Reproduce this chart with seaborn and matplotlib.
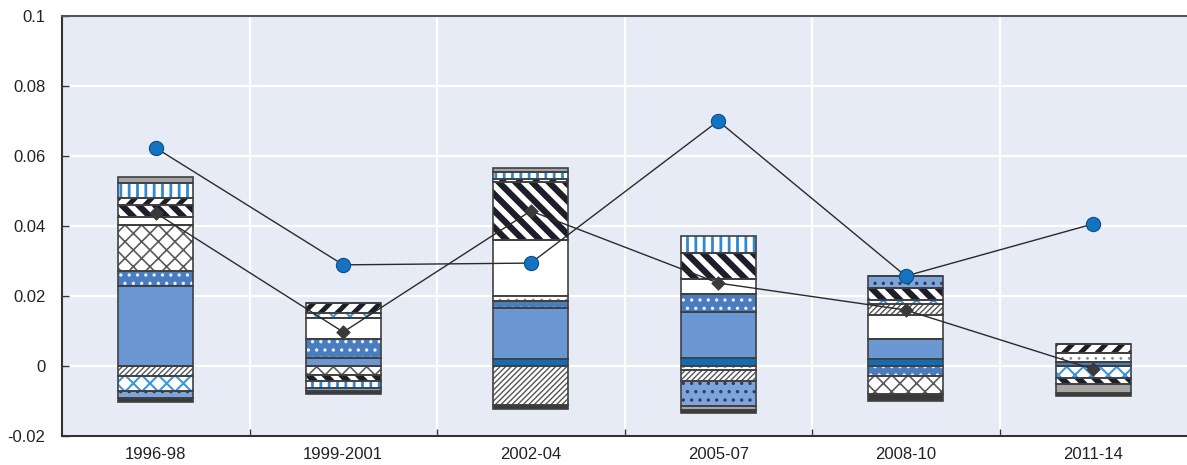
import numpy as np
import pandas as pd
import matplotlib
matplotlib.use("Agg")
import matplotlib.pyplot as plt
from matplotlib.ticker import FixedLocator
import seaborn as sns

# ---------------- data ----------------
periods = ["1996-98", "1999-2001", "2002-04", "2005-07", "2008-10", "2011-14"]

dark_blue       = [0.0,     0.0,     0.0021,  0.0022,  0.0021,  0.0]
solid_blue      = [0.0229,  0.0024,  0.0146,  0.0131,  0.0055,  0.0]
blue_dots       = [0.0043,  0.0052,  0.0019,  0.0052, -0.0029,  0.0012]
grey_cross      = [0.0131, -0.0026,  0.0,     0.0,    -0.0052,  0.0]
white_dots      = [0.0,     0.0,     0.0014, -0.0012,  0.0,     0.0024]
white_solid     = [0.0024,  0.0062,  0.0159,  0.0043,  0.0071,  0.0]
thin_hatch      = [-0.0029, 0.0,    -0.0110, -0.0030,  0.0030,  0.0]
blue_cross      = [-0.0043, 0.0014,  0.0,     0.0,     0.0012, -0.0035]
bold_diag       = [0.0032, -0.0017,  0.0167,  0.0076,  0.0033, -0.0015]
zigzag          = [0.0022,  0.0029,  0.0008,  0.0,     0.0,     0.0028]
blue_stripes    = [0.0043, -0.0019,  0.0021,  0.0048,  0.0,     0.0]
light_blue_dots = [-0.0019, -0.0010, 0.0,    -0.0071,  0.0036,  0.0]
grey_solid      = [0.0015,  0.0,     0.0010, -0.0014,  0.0,    -0.0027]
dark_solid      = [-0.0011, -0.0008, -0.0014, -0.0007, -0.0019, -0.0008]

circle_vals  = [0.0623, 0.0289, 0.0294, 0.0700, 0.0257, 0.0406]
diamond_vals = [0.0437, 0.0097, 0.0443, 0.0237, 0.0160, -0.0009]

y_ticks = [-0.02, 0.0, 0.02, 0.04, 0.06, 0.08, 0.1]
y_tick_labels = ["-0.02", "0", "0.02", "0.04", "0.06", "0.08", "0.1"]

# ---------------- style ----------------
sns.set_theme(style="white")
plt.rcParams['font.family'] = ['Liberation Sans', 'DejaVu Sans']

# (values, facecolor, hatch, hatchcolor, hatch linewidth)
series = [
    (dark_blue,       "#106db5", None,     None,      1.0),
    (solid_blue,      "#6b98d3", None,     None,      1.0),
    (blue_dots,       "#4a7dc0", "..",     "#e8eef8", 1.2),
    (grey_cross,      "#ffffff", "xx",     "#5a5a5a", 1.2),
    (white_dots,      "#ffffff", "..",     "#8a8a8a", 0.8),
    (white_solid,     "#ffffff", None,     None,      1.0),
    (thin_hatch,      "#ffffff", "//////", "#555555", 1.0),
    (blue_cross,      "#ffffff", "xx",     "#3d97dc", 1.5),
    (bold_diag,       "#ffffff", "\\\\",   "#1e1e2a", 4.5),
    (zigzag,          "#ffffff", "//",     "#1e1e2a", 3.5),
    (blue_stripes,    "#ffffff", "||",     "#2f88d2", 2.0),
    (light_blue_dots, "#7ea4dc", "..",     "#2d3e60", 1.2),
    (grey_solid,      "#a5a5a5", None,     None,      1.0),
    (dark_solid,      "#3a3a3a", None,     None,      1.0),
]

fig = plt.figure(figsize=(11.87, 4.65), dpi=100)
ax = fig.add_axes([62 / 1187, 29 / 465, 1 - 62 / 1187, 420 / 465])
ax.set_facecolor("#e6ebf5")

pos_bottom = np.zeros(len(periods))
neg_bottom = np.zeros(len(periods))
for vals, face, hatch, hcol, hlw in series:
    v = np.asarray(vals, dtype=float)
    bottom = np.where(v >= 0, pos_bottom, neg_bottom)
    with plt.rc_context({"hatch.linewidth": hlw}):
        sns.barplot(x=periods, y=v, bottom=bottom, width=0.4, saturation=1,
                    errorbar=None, ax=ax, color=face, facecolor=face,
                    edgecolor=(hcol if hatch else face), hatch=hatch,
                    linewidth=0, zorder=2)
    sns.barplot(x=periods, y=v, bottom=bottom, width=0.4, saturation=1,
                errorbar=None, ax=ax, color=face, facecolor="none",
                edgecolor="#404040", linewidth=1.2, zorder=2.5)
    pos_bottom = pos_bottom + np.where(v > 0, v, 0)
    neg_bottom = neg_bottom + np.where(v < 0, v, 0)

# lines and markers
line_df = pd.DataFrame({"period": periods, "circle": circle_vals, "diamond": diamond_vals})
sns.lineplot(data=line_df, x="period", y="circle", sort=False, color="#2a2a2a",
             linewidth=1.0, ax=ax, zorder=3)
sns.lineplot(data=line_df, x="period", y="diamond", sort=False, color="#2a2a2a",
             linewidth=1.0, ax=ax, zorder=3)
sns.scatterplot(data=line_df, x="period", y="circle", marker="o", s=105,
                color="#1473bf", edgecolor="#0d4f8c", linewidth=0.8, ax=ax, zorder=4)
sns.scatterplot(data=line_df, x="period", y="diamond", marker="D", s=48,
                color="#3a3a3a", edgecolor="#3a3a3a", linewidth=0.5, ax=ax, zorder=4)

# ---------------- axes ----------------
ax.set_xlim(-0.5, len(periods) - 0.5)
ax.set_ylim(-0.02, 0.1)
ax.set_xlabel("")
ax.set_ylabel("")

ax.set_yticks(y_ticks)
ax.set_yticklabels(y_tick_labels)
ax.xaxis.set_minor_locator(FixedLocator(np.arange(0.5, len(periods) - 0.5, 1.0)))

ax.set_axisbelow(True)
ax.grid(True, axis="y", which="major", color="white", linewidth=1.6)
ax.grid(True, axis="x", which="minor", color="white", linewidth=1.6)
ax.grid(False, axis="x", which="major")

ax.tick_params(axis="y", direction="in", length=5, width=1, color="#333333",
               labelsize=12, labelcolor="#222222", pad=12, left=True)
ax.tick_params(axis="x", which="major", length=0, labelsize=12,
               labelcolor="#222222", pad=8)
ax.tick_params(axis="x", which="minor", direction="in", length=5, width=1,
               color="#333333", bottom=True)

for side in ["left", "bottom", "top"]:
    ax.spines[side].set_visible(True)
    ax.spines[side].set_color("#333333")
    ax.spines[side].set_linewidth(1.5)
ax.spines["top"].set_color("#555555")
ax.spines["right"].set_visible(False)

leg = ax.get_legend()
if leg is not None:
    leg.remove()

fig.savefig("out.png", dpi=100)
